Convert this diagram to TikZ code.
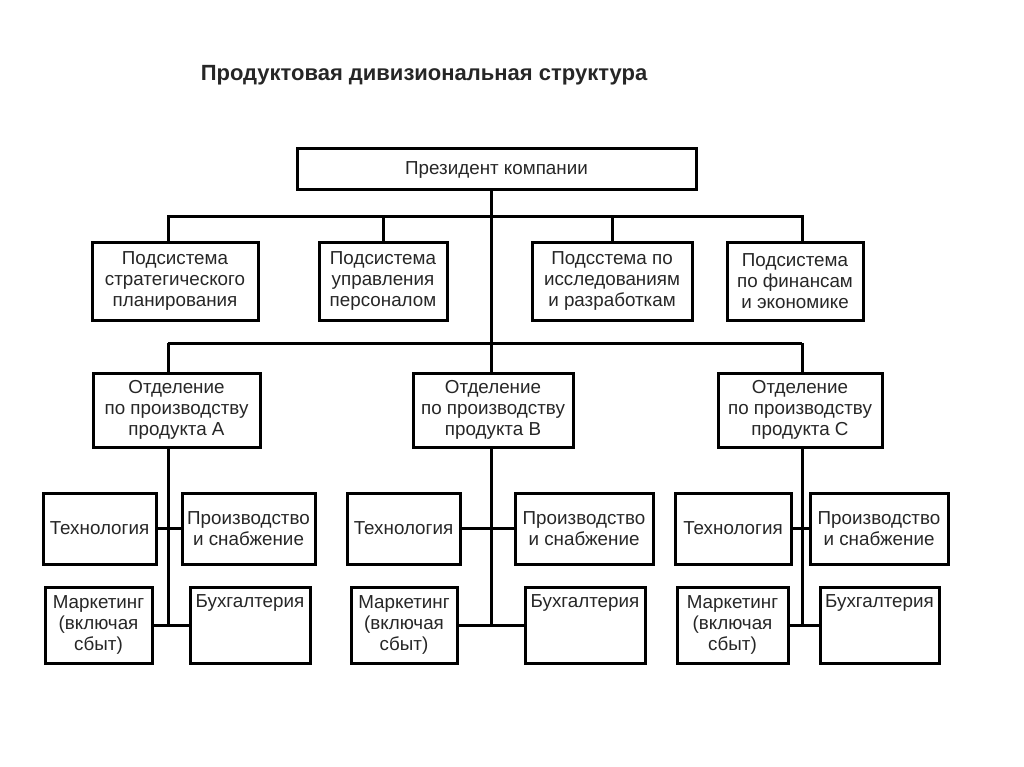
\documentclass[tikz,border=0pt]{standalone}
\usepackage{fontspec}
\setmainfont{Liberation Sans}

\begin{document}
\begin{tikzpicture}[x=1pt,y=-1pt,
    every node/.style={font=\fontsize{18.8}{21}\selectfont,text=black!85},
    box/.style 2 args={draw=black,line width=3pt,align=center,inner sep=0pt,
        minimum width=#1,minimum height=#2},
    link/.style={line width=3pt}]
\useasboundingbox (0,0) rectangle (1024,767);

\node[font=\bfseries\fontsize{22}{25}\selectfont] (title) at (424,75) {Продуктовая дивизиональная структура};

\node[box={399pt}{41pt}] (pres) at (496.5,169.5) {Президент компании};

\node[box={166pt}{78pt}] (sub1) at (175,281) {Подсистема\\стратегического\\планирования};
\node[box={128pt}{78pt}] (sub2) at (383,281) {Подсистема\\управления\\персоналом};
\node[box={160pt}{78pt}] (sub3) at (612,281) {Подсстема по\\исследованиям\\и разработкам};
\node[box={136pt}{78pt}] (sub4) at (795,281) {Подсистема\\по финансам\\и экономике};

\node[box={167pt}{74pt}] (divA) at (176.5,410) {Отделение\\по производству\\продукта A};
\node[box={160pt}{74pt}] (divB) at (493,410) {Отделение\\по производству\\продукта B};
\node[box={164pt}{74pt}] (divC) at (800,410) {Отделение\\по производству\\продукта C};

% product A
\node[box={113pt}{71pt}] (tecA) at (99.5,528.5) {Технология};
\node[box={133pt}{71pt}] (prodA) at (248.5,528.5) {Производство\\и снабжение};
\node[box={107pt}{76pt}] (markA) at (98.5,625) {Маркетинг\\(включая\\сбыт)};
\node[box={120pt}{76pt}] (buhA) at (250,625) {Бухгалтерия\\\strut\\\strut};
% product B
\node[box={113pt}{71pt}] (tecB) at (403.5,528.5) {Технология};
\node[box={138pt}{71pt}] (prodB) at (584,528.5) {Производство\\и снабжение};
\node[box={106pt}{76pt}] (markB) at (404,625) {Маркетинг\\(включая\\сбыт)};
\node[box={120pt}{76pt}] (buhB) at (585,625) {Бухгалтерия\\\strut\\\strut};
% product C
\node[box={116pt}{71pt}] (tecC) at (733,528.5) {Технология};
\node[box={138pt}{71pt}] (prodC) at (879,528.5) {Производство\\и снабжение};
\node[box={111pt}{76pt}] (markC) at (732.5,625) {Маркетинг\\(включая\\сбыт)};
\node[box={119pt}{76pt}] (buhC) at (879.5,625) {Бухгалтерия\\\strut\\\strut};

\coordinate (bus) at (490,217);
\foreach \d/\x in {A/168,B/491,C/802}
    \coordinate (sp\d) at (\x,343);

\draw[link] (pres.south -| spB) -- (divB.north -| spB);
\draw[link] (sub1.north -| spA) -- (bus -| spA) -- (bus -| spC) -- (sub4.north -| spC);
\foreach \s in {2,3}
    \draw[link] (sub\s.north) -- (sub\s.north |- bus);
\draw[link] (spA) -- (spC);
\foreach \d in {A,C}
    \draw[link] (sp\d) -- (div\d.north -| sp\d);

\foreach \d in {A,B,C}{
    \draw[link] (div\d.south -| sp\d) -- (sp\d |- mark\d.east);
    \draw[link] (tec\d.east) -- (prod\d.west);
    \draw[link] (mark\d.east) -- (buh\d.west);
}
\end{tikzpicture}
\end{document}
